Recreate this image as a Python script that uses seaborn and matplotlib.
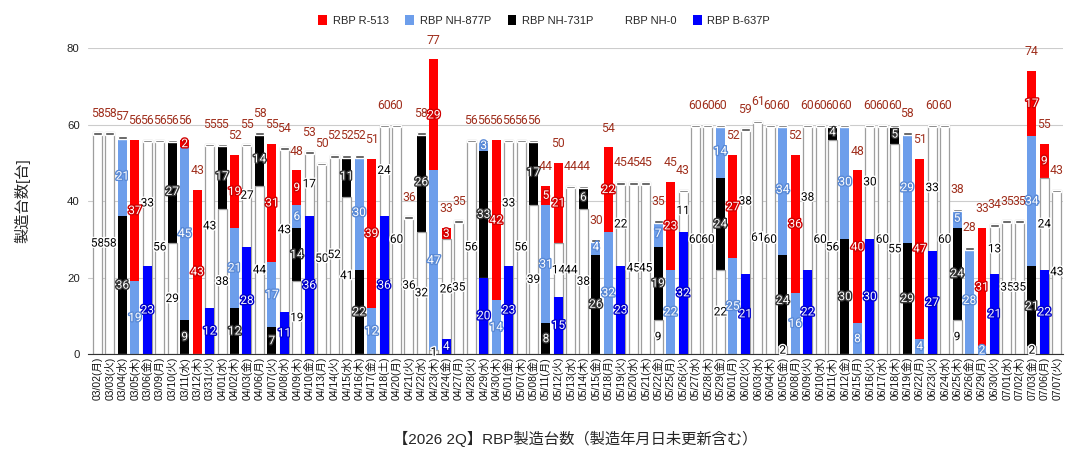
import numpy as np
import pandas as pd
import matplotlib
matplotlib.use("Agg")
import matplotlib.pyplot as plt
import matplotlib.patheffects as pe
from matplotlib.patches import Patch
import seaborn as sns

dates = [
    "03/02(月)", "03/03(火)", "03/04(水)", "03/05(木)", "03/06(金)", "03/09(月)", "03/10(火)",
    "03/11(水)", "03/12(木)", "03/31(火)", "04/01(水)", "04/02(木)", "04/03(金)", "04/06(月)",
    "04/07(火)", "04/08(水)", "04/09(木)", "04/10(金)", "04/13(月)", "04/14(火)", "04/15(水)",
    "04/16(木)", "04/17(金)", "04/18(土)", "04/20(月)", "04/21(火)", "04/22(水)", "04/23(木)",
    "04/24(金)", "04/27(月)", "04/28(火)", "04/29(水)", "04/30(木)", "05/01(金)", "05/07(木)",
    "05/08(金)", "05/11(月)", "05/12(火)", "05/13(水)", "05/14(木)", "05/15(金)", "05/18(月)",
    "05/19(火)", "05/20(水)", "05/21(木)", "05/22(金)", "05/25(月)", "05/26(火)", "05/27(水)",
    "05/28(木)", "05/29(金)", "06/01(月)", "06/02(火)", "06/03(水)", "06/04(木)", "06/05(金)",
    "06/08(月)", "06/09(火)", "06/10(水)", "06/11(木)", "06/12(金)", "06/15(月)", "06/16(火)",
    "06/17(水)", "06/18(木)", "06/19(金)", "06/22(月)", "06/23(火)", "06/24(水)", "06/25(木)",
    "06/26(金)", "06/29(月)", "06/30(火)", "07/01(水)", "07/02(木)", "07/03(金)", "07/06(月)",
    "07/07(火)",
]

# stacked bottom -> top
b637 = [0, 0, 0, 0, 23, 0, 0, 0, 0, 12, 0, 0, 28, 0, 0, 11, 0, 36, 0, 0, 0, 0, 0, 36, 0, 0,
        0, 0, 4, 0, 0, 20, 0, 23, 0, 0, 0, 15, 0, 0, 0, 0, 23, 0, 0, 0, 0, 32, 0, 0, 0, 0,
        21, 0, 0, 0, 0, 22, 0, 0, 0, 0, 30, 0, 0, 0, 0, 27, 0, 0, 0, 0, 21, 0, 0, 0, 22, 0]
nh0 = [58, 58, 0, 0, 33, 56, 29, 0, 0, 43, 38, 0, 27, 44, 0, 43, 19, 17, 50, 52, 41, 0, 0, 24,
       60, 36, 32, 1, 26, 35, 56, 0, 0, 33, 56, 39, 0, 14, 44, 38, 0, 0, 22, 45, 45, 9, 0, 11,
       60, 60, 22, 0, 38, 61, 60, 2, 0, 38, 60, 56, 0, 0, 30, 60, 55, 0, 0, 33, 60, 9, 0, 0,
       13, 35, 35, 2, 24, 43]
nh731 = [0, 0, 36, 0, 0, 0, 27, 9, 0, 0, 17, 12, 0, 14, 7, 0, 14, 0, 0, 0, 11, 22, 0, 0, 0, 0,
         26, 0, 0, 0, 0, 33, 0, 0, 0, 17, 8, 0, 0, 6, 26, 0, 0, 0, 0, 19, 0, 0, 0, 0, 24, 0,
         0, 0, 0, 24, 0, 0, 0, 4, 30, 0, 0, 0, 5, 29, 0, 0, 0, 24, 0, 0, 0, 0, 0, 21, 0, 0]
nh877 = [0, 0, 21, 19, 0, 0, 0, 45, 0, 0, 0, 21, 0, 0, 17, 0, 6, 0, 0, 0, 0, 30, 12, 0, 0, 0,
         0, 47, 0, 0, 0, 3, 14, 0, 0, 0, 31, 0, 0, 0, 4, 32, 0, 0, 0, 7, 22, 0, 0, 0, 14, 25,
         0, 0, 0, 34, 16, 0, 0, 0, 30, 8, 0, 0, 0, 29, 4, 0, 0, 5, 28, 2, 0, 0, 0, 34, 0, 0]
r513 = [0, 0, 0, 37, 0, 0, 0, 2, 43, 0, 0, 19, 0, 0, 31, 0, 9, 0, 0, 0, 0, 0, 39, 0, 0, 0, 0,
        29, 3, 0, 0, 0, 42, 0, 0, 0, 5, 21, 0, 0, 0, 22, 0, 0, 0, 0, 23, 0, 0, 0, 0, 27, 0, 0,
        0, 0, 36, 0, 0, 0, 0, 40, 0, 0, 0, 0, 47, 0, 0, 0, 0, 31, 0, 0, 0, 17, 9, 0]

series = [
    ("RBP B-637P", b637, "#0000ff"),
    ("RBP NH-0", nh0, "#ffffff"),
    ("RBP NH-731P", nh731, "#000000"),
    ("RBP NH-877P", nh877, "#6d9eeb"),
    ("RBP R-513", r513, "#ff0000"),
]

df = pd.DataFrame({"date": dates})
for name, vals, _ in series:
    df[name] = vals
names = [s[0] for s in series]
cum = df[names].cumsum(axis=1)
totals = cum[names[-1]].values

sns.set_style("white")
plt.rcParams["font.family"] = ["Liberation Sans", "Noto Sans CJK JP", "DejaVu Sans"]

fig = plt.figure(figsize=(10.88, 4.68), dpi=100)
ax = fig.add_axes([0.0809, 0.2436, 0.896, 0.6538])

# overlapping cumulative bars, drawn top series first
for name, _, color in reversed(series):
    plot_df = pd.DataFrame({"date": dates, "h": cum[name].values})
    edge = "#9e9e9e" if color == "#ffffff" else "none"
    sns.barplot(data=plot_df, x="date", y="h", order=dates, color=color, saturation=1,
                width=0.72, edgecolor=edge, linewidth=0.9, errorbar=None, ax=ax, zorder=2)

# dark cap on bars whose top segment is not red
x = np.arange(len(dates))
cap_mask = np.array(r513) == 0
ax.bar(x[cap_mask], 0.7, bottom=totals[cap_mask] - 0.7, width=0.72, color="#4a4a4a", zorder=3)

# segment labels
outline = {"#0000ff": "#0000cc", "#ffffff": "#ffffff", "#000000": "#333333",
           "#6d9eeb": "#5a8ad6", "#ff0000": "#d00000"}
for name, vals, color in series:
    bottoms = cum[name].values - np.array(vals)
    for i, v in enumerate(vals):
        if v <= 0:
            continue
        tc = "black" if color == "#ffffff" else "white"
        ax.text(i, bottoms[i] + v / 2, str(v), ha="center", va="center", fontsize=8.5,
                color=tc, family="Roboto", zorder=5,
                path_effects=[pe.withStroke(linewidth=2, foreground=outline[color])])

# totals
for i, t in enumerate(totals):
    ax.text(i, t + 5, str(t), ha="center", va="center", fontsize=8.8, color="#a0301e",
            family="Roboto", zorder=5)

ax.set_xlim(-0.76, 77.49)
ax.set_ylim(0, 80)
ax.set_yticks([0, 20, 40, 60, 80])
ax.yaxis.grid(True, color="#cccccc", linewidth=0.8, zorder=0)
ax.set_axisbelow(True)
for s in ["top", "right", "left"]:
    ax.spines[s].set_visible(False)
ax.spines["bottom"].set_color("#333333")
ax.tick_params(axis="y", length=0, labelsize=8.2, colors="#222222", pad=6)
ax.tick_params(axis="x", length=0, labelsize=7.5, colors="#111111", pad=2)
ax.set_xticks(x)
ax.set_xticklabels(dates, rotation=90)
ax.set_xlabel("【2026 2Q】RBP製造台数（製造年月日未更新含む）", fontsize=11, labelpad=22)
ax.set_ylabel("製造台数[台]", fontsize=11, labelpad=26)

handles = [Patch(facecolor=c, edgecolor="none", label=n) for n, _, c in reversed(series)]
fig.legend(handles=handles, loc="upper center", bbox_to_anchor=(0.5, 0.99), ncol=5,
           frameon=False, fontsize=8, handlelength=0.8, handleheight=1.1,
           columnspacing=1.5, handletextpad=0.5)

fig.savefig("out.png", dpi=100)
